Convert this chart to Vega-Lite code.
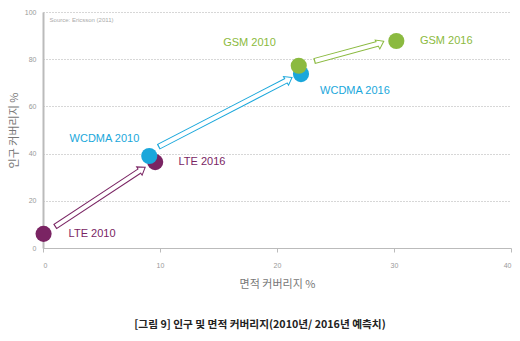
{
  "$schema": "https://vega.github.io/schema/vega-lite/v6.json",
  "width": 468,
  "height": 236,
  "autosize": {"type": "none"},
  "padding": {"left": 43, "top": 12, "right": 9, "bottom": 93},
  "background": "white",
  "config": {
    "view": {"stroke": null},
    "axisX": {
      "grid": false,
      "domainColor": "#bbbbbb",
      "tickColor": "#bbbbbb",
      "tickSize": 4,
      "labelFont": "Liberation Sans",
      "labelFontSize": 7,
      "labelColor": "#999999",
      "labelPadding": 9,
      "titleFont": "Noto Sans CJK KR",
      "titleFontSize": 11,
      "titleFontWeight": "normal",
      "titleColor": "#777777",
      "titlePadding": 10
    },
    "axisY": {
      "grid": true,
      "gridColor": "#999999",
      "gridDash": [1, 2],
      "gridWidth": 0.8,
      "ticks": false,
      "domainColor": "#bbbbbb",
      "domainWidth": 2,
      "labelFont": "Liberation Sans",
      "labelFontSize": 7,
      "labelColor": "#999999",
      "labelPadding": 7,
      "titleFont": "Noto Sans CJK KR",
      "titleFontSize": 11,
      "titleFontWeight": "normal",
      "titleColor": "#777777",
      "titlePadding": 5
    }
  },
  "title": {
    "text": "[그림 9] 인구 및 면적 커버리지(2010년/ 2016년 예측치)",
    "orient": "bottom",
    "anchor": "middle",
    "font": "Noto Sans CJK KR",
    "fontSize": 10.7,
    "fontWeight": "bold",
    "color": "#222222",
    "offset": 31,
    "dx": -17
  },
  "datasets": {
    "points": [
      {"tech": "LTE", "label": "LTE 2010", "x": 0.05, "y": 6.0, "lx": 2.19, "ly": 6.0},
      {"tech": "LTE", "label": "LTE 2016", "x": 9.59, "y": 36.4, "lx": 11.58, "ly": 36.4},
      {"tech": "WCDMA", "label": "WCDMA 2010", "x": 9.08, "y": 39.0, "lx": 2.27, "ly": 46.1},
      {"tech": "WCDMA", "label": "WCDMA 2016", "x": 22.05, "y": 73.7, "lx": 23.68, "ly": 66.5},
      {"tech": "GSM", "label": "GSM 2010", "x": 21.86, "y": 77.2, "lx": 15.4, "ly": 86.8},
      {"tech": "GSM", "label": "GSM 2016", "x": 30.2, "y": 87.7, "lx": 32.22, "ly": 87.7}
    ],
    "arrows": [
      {"tech": "LTE", "x1": 1.01, "y1": 9.0, "x2": 8.45, "y2": 33.3},
      {"tech": "WCDMA", "x1": 9.85, "y1": 42.83, "x2": 20.99, "y2": 71.44},
      {"tech": "GSM", "x1": 23.17, "y1": 79.2, "x2": 28.82, "y2": 86.79}
    ],
    "source": [
      {"text": "Source: Ericsson (2011)", "x": 0.56, "y": 96.7}
    ]
  },
  "layer": [
    {
      "data": {"name": "arrows"},
      "mark": {"type": "rule", "strokeWidth": 6, "strokeCap": "butt"},
      "encoding": {
        "x": {"field": "x1", "type": "quantitative", "title": "면적 커버리지 %",
          "scale": {"domain": [0, 40], "nice": false, "zero": false},
          "axis": {"values": [0, 10, 20, 30, 40]}},
        "y": {"field": "y1", "type": "quantitative", "title": "인구 커버리지 %",
          "scale": {"domain": [0, 100], "nice": false, "zero": false},
          "axis": {"values": [0, 20, 40, 60, 80, 100]}},
        "x2": {"field": "x2"},
        "y2": {"field": "y2"},
        "color": {"field": "tech", "type": "nominal", "legend": null,
          "scale": {"domain": ["LTE", "WCDMA", "GSM"], "range": ["#7a2463", "#1aa7db", "#8bba40"]}}
      }
    },
    {
      "data": {"name": "arrows"},
      "mark": {"type": "point", "filled": true, "fill": "white", "strokeWidth": 1, "size": 100, "opacity": 1,
        "shape": "M0.8,0L-0.6,-1L-0.6,1Z"},
      "encoding": {
        "x": {"field": "x2", "type": "quantitative", "title": "면적 커버리지 %"},
        "y": {"field": "y2", "type": "quantitative", "title": "인구 커버리지 %"},
        "stroke": {"field": "tech", "type": "nominal", "legend": null,
          "scale": {"domain": ["LTE", "WCDMA", "GSM"], "range": ["#7a2463", "#1aa7db", "#8bba40"]}},
        "angle": {"field": "tech", "type": "nominal", "legend": null,
          "scale": {"domain": ["LTE", "WCDMA", "GSM"], "range": [326.6, 332.6, 344.8]}}
      }
    },
    {
      "data": {"name": "arrows"},
      "mark": {"type": "rule", "strokeWidth": 4, "strokeCap": "butt", "color": "white", "strokeDash": [0, 1.2, 10000, 0]},
      "encoding": {
        "x": {"field": "x1", "type": "quantitative", "title": "면적 커버리지 %"},
        "y": {"field": "y1", "type": "quantitative", "title": "인구 커버리지 %"},
        "x2": {"field": "x2"},
        "y2": {"field": "y2"}
      }
    },
    {
      "data": {"name": "points"},
      "mark": {"type": "circle", "size": 260, "opacity": 1},
      "encoding": {
        "x": {"field": "x", "type": "quantitative", "title": "면적 커버리지 %"},
        "y": {"field": "y", "type": "quantitative", "title": "인구 커버리지 %"},
        "color": {"field": "tech", "type": "nominal", "legend": null,
          "scale": {"domain": ["LTE", "WCDMA", "GSM"], "range": ["#7a2463", "#1aa7db", "#8bba40"]}}
      }
    },
    {
      "data": {"name": "points"},
      "mark": {"type": "text", "align": "left", "baseline": "middle", "font": "Liberation Sans", "fontSize": 11},
      "encoding": {
        "x": {"field": "lx", "type": "quantitative", "title": "면적 커버리지 %"},
        "y": {"field": "ly", "type": "quantitative", "title": "인구 커버리지 %"},
        "text": {"field": "label"},
        "color": {"field": "tech", "type": "nominal", "legend": null,
          "scale": {"domain": ["LTE", "WCDMA", "GSM"], "range": ["#7a2463", "#1aa7db", "#8bba40"]}}
      }
    },
    {
      "data": {"name": "source"},
      "mark": {"type": "text", "align": "left", "baseline": "middle", "font": "Liberation Sans", "fontSize": 6, "color": "#aaaaaa"},
      "encoding": {
        "x": {"field": "x", "type": "quantitative", "title": "면적 커버리지 %"},
        "y": {"field": "y", "type": "quantitative", "title": "인구 커버리지 %"},
        "text": {"field": "text"}
      }
    }
  ]
}
